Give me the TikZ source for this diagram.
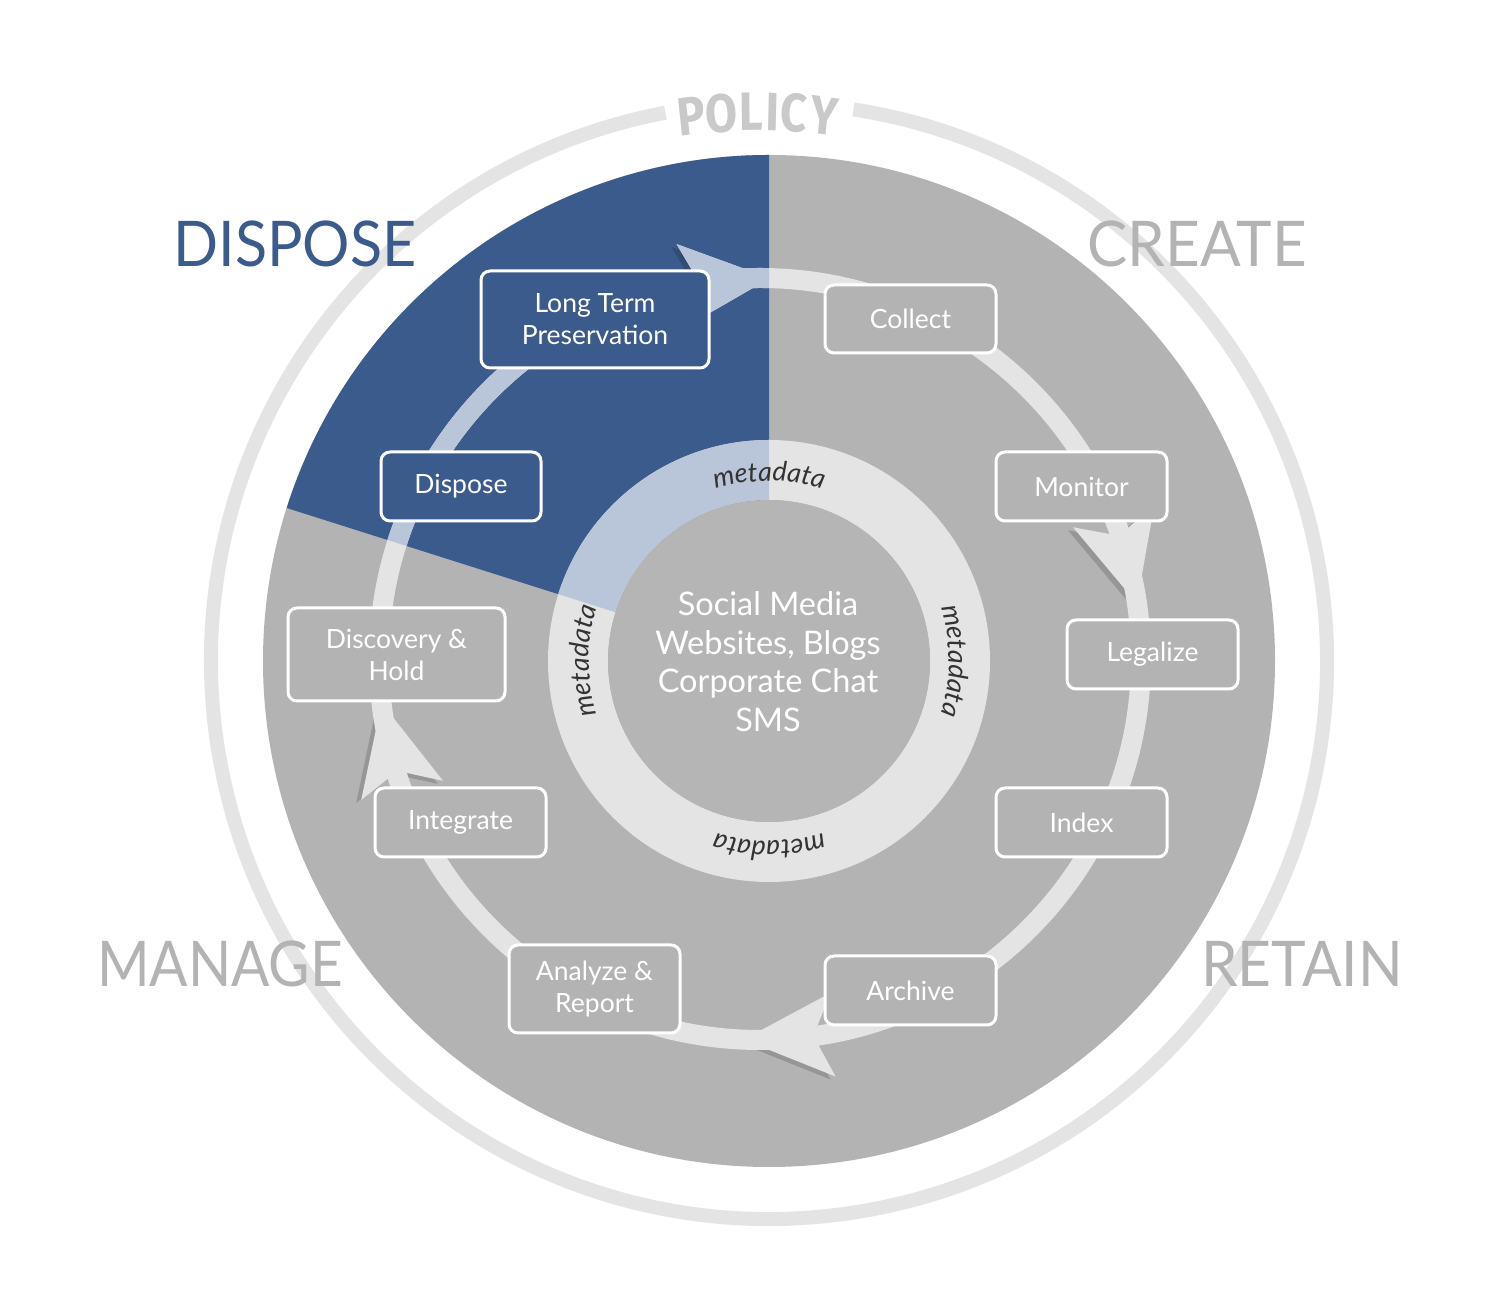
\documentclass[tikz,border=0pt]{standalone}
\usepackage{fontspec}
\setmainfont{Lato}
\newfontfamily\policyfont{Fira Sans}
\usetikzlibrary{decorations.text,calc}
\definecolor{discgray}{HTML}{B3B3B3}
\definecolor{innergray}{HTML}{B5B5B5}
\definecolor{ringgray}{HTML}{E4E4E4}
\definecolor{navy}{HTML}{3B5B8C}
\definecolor{paleblue}{HTML}{B9C6DA}
\definecolor{policygray}{HTML}{C9C9C9}
\definecolor{mdtext}{HTML}{333333}
\newcommand\headshape{(0,0) -- (-90,42) -- (-70,0) -- (-90,-42) -- cycle}
\newcommand\cyclering[1]{%
  \draw[#1, line width=20pt] (K) circle[radius=381];
  \foreach \p/\r in {88.5/5, 8.4/-75, 267.5/183.2, 186.6/103.2}{
    \fill[#1, shift={($(K)+(\p:381)$)}, rotate=\r] \headshape;
  }%
}
\begin{document}
\begin{tikzpicture}[x=1pt,y=1pt,
  stepbox/.style={draw=white, line width=3pt, rounded corners=9pt, text=white,
    font=\fontsize{26.5}{32}\selectfont, align=center, inner sep=0pt,
    minimum width=171pt, minimum height=69pt},
  biglabel/.style={font=\fontsize{63}{63}\selectfont, inner sep=0pt, anchor=center},
  polletter/.style={font=\policyfont\bfseries\fontsize{54}{54}\selectfont, text=policygray, inner sep=0pt, xscale=0.86}]
\useasboundingbox (0,0) rectangle (1500,1298);
\fill[white] (0,0) rectangle (1500,1298);
\coordinate (D) at (769,637);
\coordinate (K) at (760,639);
% policy ring
\draw[ringgray, line width=14pt] ($(D)+(100.7:558)$) arc[start angle=100.7, end angle=441.3, radius=558];
% main disc and blue sector
\fill[discgray] (D) circle[radius=506];
\fill[navy] (D) -- ++(90:506) arc[start angle=90, end angle=162.4, radius=506] -- cycle;
% arrow shadows
\foreach \p/\r in {88.5/5, 8.4/-75, 267.5/183.2, 186.6/103.2}{
  \fill[black, opacity=0.16, shift={($(K)+(\p:381)+(-5,-3)$)}, rotate=\r] \headshape;
}
\cyclering{ringgray}
\draw[ringgray, line width=60pt] (D) circle[radius=191];
\begin{scope}
  \clip (D) -- ++(90:560) arc[start angle=90, end angle=162.4, radius=560] -- cycle;
  \cyclering{paleblue}
  \draw[paleblue, line width=60pt] (D) circle[radius=191];
\end{scope}
\fill[innergray] (D) circle[radius=161];
% metadata labels
\foreach \c in {90,0,-90,180}{
  \path[decorate, decoration={text along path, text align=center, text color=mdtext,
      text={|\itshape\fontsize{27}{27}\selectfont|metadata}}]
    ($(D)+(\c+35:180)$) arc[start angle=\c+35, end angle=\c-35, radius=180];
}
% boxes
\node[stepbox, fill=navy, minimum width=228pt, minimum height=97pt] (ltp) at (595,978.5) {Long Term\\Preservation};
\node[stepbox, fill=discgray, minimum height=68pt] (collect) at (910.5,979) {Collect};
\node[stepbox, fill=discgray] (monitor) at (1081.5,811.5) {Monitor};
\node[stepbox, fill=discgray] (legalize) at (1152.5,643.5) {Legalize};
\node[stepbox, fill=discgray] (index) at (1081.5,475.5) {Index};
\node[stepbox, fill=discgray] (archive) at (910.5,307.5) {Archive};
\node[stepbox, fill=discgray, minimum height=88pt] (analyze) at (594.5,309) {Analyze \&\\Report};
\node[stepbox, fill=discgray] (integrate) at (460.5,475.5) {Integrate};
\node[stepbox, fill=discgray, minimum width=217pt, minimum height=93pt] (discovery) at (396.5,643.5) {Discovery \&\\Hold};
\node[stepbox, fill=navy, minimum width=160pt] (dispose) at (461,811.5) {Dispose};
% centre text
\node[text=white, font=\fontsize{32.5}{38.5}\selectfont, align=center, inner sep=0pt] (sources) at (768,636.5)
  {Social Media\\Websites, Blogs\\Corporate Chat\\SMS};
% quadrant labels
\node[biglabel, text=navy, xscale=0.94] (lblDispose) at (295,1054) {DISPOSE};
\node[biglabel, text=discgray, xscale=0.955] (lblCreate) at (1197,1054) {CREATE};
\node[biglabel, text=discgray, xscale=0.90] (lblManage) at (220,334) {MANAGE};
\node[biglabel, text=discgray, xscale=0.93] (lblRetain) at (1302,334) {RETAIN};
% POLICY
\coordinate (PC) at (758,637);
\foreach \l/\a [count=\i] in {P/97.0, O/93.8, L/90.7, I/88.5, C/86.2, Y/83.1}{
  \node[polletter, rotate=\a-90] (pol\i) at ($(PC)+(\a:549)$) {\l};
}
\end{tikzpicture}
\end{document}
